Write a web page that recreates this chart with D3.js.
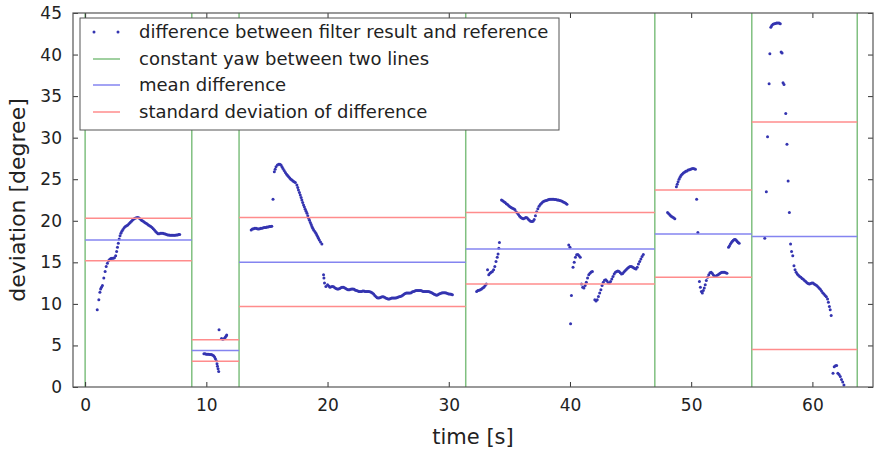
<!DOCTYPE html>
<html>
<head>
<meta charset="utf-8">
<script src="https://cdn.jsdelivr.net/npm/d3@7"></script>
<style>
  body { margin: 0; background: #fff; }
  svg { display: block; font-family: "DejaVu Sans", sans-serif; }
</style>
</head>
<body>
<div id="chart"></div>
<script>
// segment borders (constant yaw between two lines)
var borders = [0, 8.8, 12.7, 31.4, 47.0, 55.0, 63.7];
var means = [17.7, 4.4, 15.0, 16.6, 18.4, 18.1];
var stdUpper = [20.3, 5.7, 20.4, 21.0, 23.7, 31.9];
var stdLower = [15.2, 3.1, 9.7, 12.4, 13.2, 4.5];

var xTicks = [0, 10, 20, 30, 40, 50, 60];
var yTicks = [0, 5, 10, 15, 20, 25, 30, 35, 40, 45];

var legendLabels = [
  "difference between filter result and reference",
  "constant yaw between two lines",
  "mean difference",
  "standard deviation of difference"
];

// [time, deviation]
var seg1 = [[1.0,9.3],[1.13,10.5],[1.22,11.4],[1.28,11.8],[1.35,12.0],[1.43,12.2],[1.54,13.1],[1.65,13.9],[1.74,14.5],[1.84,14.9],[1.93,15.2],[2.02,15.35],[2.12,15.45],[2.22,15.5],[2.32,15.5],[2.42,15.55],[2.52,15.8],[2.6,16.3],[2.67,16.8],[2.74,17.3],[2.81,17.8],[2.88,18.2],[2.95,18.5],[3.03,18.75],[3.12,18.95],[3.22,19.15],[3.32,19.3],[3.42,19.4],[3.52,19.5],[3.62,19.65],[3.72,19.8],[3.82,19.95],[3.92,20.1],[4.02,20.2],[4.12,20.3],[4.22,20.35],[4.32,20.4],[4.42,20.35],[4.52,20.25],[4.62,20.1],[4.72,20.0],[4.82,19.9],[4.92,19.8],[5.02,19.7],[5.12,19.6],[5.22,19.5],[5.32,19.4],[5.42,19.3],[5.52,19.2],[5.62,19.05],[5.72,18.9],[5.82,18.7],[5.92,18.55],[6.02,18.45],[6.12,18.45],[6.22,18.5],[6.32,18.5],[6.42,18.5],[6.52,18.45],[6.62,18.4],[6.72,18.35],[6.82,18.3],[6.92,18.3],[7.02,18.25],[7.12,18.25],[7.22,18.25],[7.32,18.25],[7.42,18.25],[7.52,18.3],[7.62,18.3],[7.72,18.35],[7.8,18.35]];

var seg2 = [[9.8,4.0],[9.9,4.0],[10.0,3.95],[10.1,3.95],[10.2,3.95],[10.3,3.9],[10.4,3.9],[10.5,3.85],[10.6,3.75],[10.68,3.6],[10.75,3.4],[10.82,3.15],[10.88,2.8],[10.92,2.5],[10.97,2.2],[11.02,1.85],[11.05,6.9],[11.25,5.85],[11.35,5.75],[11.45,5.8],[11.55,5.95],[11.62,6.1],[11.68,6.25]];

var seg3 = [[13.7,18.9],[13.8,19.0],[13.9,19.05],[14.0,19.1],[14.1,19.1],[14.2,19.05],[14.3,19.0],[14.4,19.05],[14.5,19.1],[14.6,19.1],[14.7,19.15],[14.8,19.2],[14.9,19.2],[15.0,19.25],[15.1,19.25],[15.2,19.3],[15.3,19.3],[15.4,19.35],[15.5,22.6],[15.61,25.9],[15.68,26.2],[15.75,26.5],[15.86,26.7],[15.97,26.8],[16.06,26.8],[16.16,26.7],[16.24,26.5],[16.32,26.3],[16.42,26.05],[16.52,25.8],[16.62,25.6],[16.7,25.45],[16.79,25.3],[16.88,25.15],[16.97,25.0],[17.06,24.9],[17.15,24.8],[17.24,24.7],[17.34,24.6],[17.47,24.3],[17.54,24.0],[17.6,23.7],[17.68,23.4],[17.75,23.1],[17.82,22.8],[17.88,22.5],[17.95,22.2],[18.02,21.9],[18.09,21.65],[18.16,21.4],[18.23,21.15],[18.3,20.9],[18.37,20.6],[18.44,20.3],[18.51,20.05],[18.58,19.8],[18.65,19.55],[18.71,19.3],[18.78,19.1],[18.85,18.9],[18.95,18.7],[19.04,18.5],[19.11,18.3],[19.18,18.1],[19.25,17.9],[19.32,17.7],[19.42,17.45],[19.53,17.2],[19.67,13.5],[19.7,13.1],[19.75,12.5],[19.86,12.1],[20.0,12.3],[20.1,12.15],[20.2,12.0],[20.3,12.05],[20.4,12.1],[20.5,12.05],[20.6,11.95],[20.7,11.85],[20.8,11.8],[20.9,11.8],[21.0,11.85],[21.1,11.95],[21.2,12.0],[21.3,12.0],[21.4,11.95],[21.5,11.85],[21.6,11.75],[21.7,11.7],[21.8,11.7],[21.9,11.75],[22.0,11.8],[22.1,11.8],[22.2,11.75],[22.3,11.65],[22.4,11.6],[22.5,11.55],[22.6,11.5],[22.7,11.5],[22.8,11.5],[22.9,11.55],[23.0,11.55],[23.1,11.5],[23.2,11.5],[23.3,11.5],[23.4,11.5],[23.5,11.45],[23.6,11.4],[23.7,11.3],[23.8,11.2],[23.9,11.0],[24.0,10.85],[24.1,10.75],[24.2,10.7],[24.3,10.75],[24.4,10.8],[24.5,10.85],[24.6,10.85],[24.7,10.8],[24.8,10.7],[24.9,10.65],[25.0,10.6],[25.1,10.6],[25.2,10.65],[25.3,10.7],[25.4,10.7],[25.5,10.7],[25.6,10.7],[25.7,10.75],[25.8,10.8],[25.9,10.85],[26.0,10.9],[26.1,10.95],[26.2,11.05],[26.3,11.15],[26.4,11.25],[26.5,11.3],[26.6,11.3],[26.7,11.3],[26.8,11.3],[26.9,11.35],[27.0,11.45],[27.1,11.5],[27.2,11.55],[27.3,11.6],[27.4,11.6],[27.5,11.6],[27.6,11.6],[27.7,11.6],[27.8,11.55],[27.9,11.5],[28.0,11.5],[28.1,11.5],[28.2,11.5],[28.3,11.5],[28.4,11.45],[28.5,11.4],[28.6,11.35],[28.7,11.25],[28.8,11.15],[28.9,11.1],[29.0,11.05],[29.1,11.1],[29.2,11.2],[29.3,11.25],[29.4,11.3],[29.5,11.35],[29.6,11.35],[29.7,11.35],[29.8,11.3],[29.9,11.25],[30.0,11.2],[30.1,11.2],[30.2,11.15],[30.3,11.1]];

var seg4 = [[32.3,11.5],[32.4,11.6],[32.5,11.65],[32.6,11.7],[32.7,11.8],[32.8,11.9],[32.9,12.0],[33.0,12.2],[33.1,12.4],[33.2,14.1],[33.3,13.5],[33.4,13.7],[33.5,13.8],[33.6,13.9],[33.7,14.1],[33.8,14.5],[33.9,15.1],[34.0,15.6],[34.07,16.0],[34.13,16.7],[34.18,17.4],
  [34.35,22.5],[34.45,22.4],[34.55,22.3],[34.65,22.2],[34.75,22.05],[34.85,21.95],[34.95,21.8],[35.05,21.7],[35.15,21.6],[35.25,21.5],[35.35,21.45],[35.45,21.35],[35.55,21.1],[35.65,20.95],[35.75,20.75],[35.85,20.55],[35.95,20.4],[36.05,20.3],[36.15,20.25],[36.25,20.3],[36.35,20.4],[36.45,20.35],[36.55,20.2],[36.65,20.05],[36.75,19.95],[36.85,19.9],[36.95,19.95],[37.05,20.15],[37.15,20.6],[37.25,21.1],[37.35,21.45],[37.45,21.75],[37.55,21.95],[37.65,22.1],[37.75,22.25],[37.85,22.35],[37.95,22.4],[38.05,22.45],[38.15,22.5],[38.25,22.55],[38.35,22.6],[38.45,22.6],[38.55,22.6],[38.65,22.6],[38.75,22.55],[38.85,22.55],[38.95,22.5],[39.05,22.5],[39.15,22.45],[39.25,22.4],[39.35,22.35],[39.45,22.25],[39.55,22.2],[39.65,22.1],[39.75,22.0],
  [39.9,17.1],[40.0,16.8],[40.05,7.6],[40.12,11.0],[40.25,14.4],[40.35,15.0],[40.45,15.6],[40.55,15.9],[40.65,15.95],[40.75,15.8],[40.85,15.6],[40.95,12.4],[41.05,12.0],[41.15,11.9],[41.25,12.2],[41.35,12.6],[41.45,13.1],[41.55,13.5],[41.65,13.7],[41.75,13.85],[41.85,13.9],[42.05,10.5],[42.15,10.35],[42.25,10.5],[42.35,10.9],[42.45,11.3],[42.55,11.7],[42.65,12.2],[42.75,12.6],[42.85,12.85],[42.95,12.9],[43.05,12.75],[43.15,12.55],[43.25,12.5],[43.35,12.7],[43.45,13.0],[43.55,13.3],[43.65,13.6],[43.75,13.8],[43.85,13.9],[43.95,13.95],[44.05,13.9],[44.15,13.75],[44.25,13.6],[44.35,13.65],[44.45,13.85],[44.55,14.0],[44.65,14.15],[44.75,14.3],[44.85,14.4],[44.95,14.5],[45.05,14.5],[45.15,14.45],[45.25,14.35],[45.35,14.25],[45.45,14.2],[45.55,14.4],[45.65,14.8],[45.75,15.1],[45.85,15.4],[45.95,15.7],[46.05,15.95]];

var seg5 = [[48.05,21.0],[48.15,20.85],[48.25,20.7],[48.35,20.55],[48.45,20.45],[48.55,20.35],[48.65,20.25],[48.78,24.1],[48.85,24.4],[48.92,24.7],[49.0,25.0],[49.08,25.25],[49.16,25.45],[49.25,25.6],[49.35,25.75],[49.45,25.85],[49.55,25.95],[49.65,26.0],[49.75,26.1],[49.85,26.15],[49.95,26.2],[50.05,26.25],[50.15,26.3],[50.25,26.25],[50.35,26.2],[50.45,22.6],[50.55,18.6],[50.68,12.7],[50.76,12.0],[50.84,11.5],[50.92,11.3],[51.0,11.6],[51.08,11.9],[51.16,12.3],[51.25,12.8],[51.35,13.2],[51.45,13.5],[51.55,13.75],[51.65,13.8],[51.75,13.65],[51.85,13.45],[51.95,13.3],[52.05,13.35],[52.15,13.45],[52.25,13.55],[52.35,13.65],[52.45,13.75],[52.55,13.8],[52.65,13.8],[52.75,13.8],[52.85,13.75],[52.95,13.7],[53.08,16.8],[53.16,17.0],[53.24,17.2],[53.32,17.4],[53.4,17.55],[53.48,17.65],[53.56,17.75],[53.64,17.75],[53.72,17.65],[53.8,17.5],[53.88,17.4],[53.96,17.3]];

var seg6 = [[56.07,17.9],[56.2,23.5],[56.3,30.1],[56.43,36.5],[56.49,40.1],[56.57,43.3],[56.65,43.5],[56.75,43.65],[56.85,43.7],[56.95,43.75],[57.05,43.8],[57.15,43.8],[57.25,43.8],[57.35,43.7],[57.42,40.3],[57.5,40.2],[57.58,36.6],[57.66,36.4],[57.8,32.9],[57.9,29.2],[58.0,24.8],[58.1,21.0],[58.2,17.2],[58.28,16.3],[58.38,15.8],[58.48,14.6],[58.57,14.1],[58.66,13.8],[58.75,13.6],[58.85,13.45],[58.95,13.3],[59.05,13.2],[59.15,13.05],[59.25,12.95],[59.35,12.8],[59.45,12.7],[59.55,12.55],[59.65,12.45],[59.75,12.4],[59.85,12.45],[59.95,12.5],[60.05,12.5],[60.15,12.4],[60.25,12.3],[60.35,12.2],[60.45,12.05],[60.55,11.9],[60.65,11.75],[60.75,11.55],[60.85,11.35],[60.95,11.2],[61.05,11.0],[61.15,10.85],[61.25,10.6],[61.32,10.2],[61.4,9.7],[61.47,9.3],[61.55,8.6],[61.7,1.65],[61.8,2.45],[61.9,2.55],[62.0,2.6],[62.1,1.65],[62.2,1.5],[62.3,1.25],[62.4,0.9],[62.5,0.6],[62.6,0.25]];

var points = seg1.concat(seg2, seg3, seg4, seg5, seg6);

var W = 874, H = 452;
var margin = {top: 13, right: 1, bottom: 65, left: 73};

var svg = d3.select("#chart")
  .append("svg")
    .attr("width", W)
    .attr("height", H);

var x = d3.scaleLinear()
  .domain([-1, 65])
  .range([margin.left, W - margin.right]);

var y = d3.scaleLinear()
  .domain([0, 45])
  .range([H - margin.bottom, margin.top]);

var blueDot = "#3434b0",
    green = "#80c080",
    lightBlue = "#8484f0",
    lightRed = "#ff8c8c";

// data points
svg.append("g")
  .selectAll("circle")
  .data(points)
  .enter()
  .append("circle")
    .attr("cx", d => x(d[0]))
    .attr("cy", d => y(d[1]))
    .attr("r", 1.5)
    .style("fill", blueDot);

// vertical borders
svg.append("g")
  .selectAll("line")
  .data(borders)
  .enter()
  .append("line")
    .attr("x1", d => x(d)).attr("x2", d => x(d))
    .attr("y1", y(0)).attr("y2", y(45))
    .style("stroke", green)
    .style("stroke-width", 1.5);

var segs = d3.range(means.length);

function hlines(values, color) {
  svg.append("g")
    .selectAll("line")
    .data(segs)
    .enter()
    .append("line")
      .attr("x1", i => x(borders[i])).attr("x2", i => x(borders[i + 1]))
      .attr("y1", i => y(values[i])).attr("y2", i => y(values[i]))
      .style("stroke", color)
      .style("stroke-width", 1.5);
}
hlines(means, lightBlue);
hlines(stdUpper, lightRed);
hlines(stdLower, lightRed);

// axes (ticks inside, on all four sides)
var tickStyle = function(g) {
  g.select(".domain").remove();
  g.selectAll(".tick line").style("stroke", "#333");
  g.selectAll(".tick text").style("font-size", "17px").style("fill", "#222")
    .style("font-family", "DejaVu Sans, sans-serif");
};

svg.append("g")
  .attr("transform", "translate(0," + y(0) + ")")
  .call(d3.axisBottom(x).tickValues(xTicks).tickSizeInner(-5).tickPadding(12))
  .call(tickStyle);
svg.append("g")
  .attr("transform", "translate(0," + y(45) + ")")
  .call(d3.axisTop(x).tickValues(xTicks).tickSizeInner(-5).tickFormat(""))
  .call(tickStyle);
svg.append("g")
  .attr("transform", "translate(" + x(-1) + ",0)")
  .call(d3.axisLeft(y).tickValues(yTicks).tickSizeInner(-5).tickPadding(11))
  .call(tickStyle);
svg.append("g")
  .attr("transform", "translate(" + x(65) + ",0)")
  .call(d3.axisRight(y).tickValues(yTicks).tickSizeInner(-5).tickFormat(""))
  .call(tickStyle);

svg.append("rect")
  .attr("x", x(-1)).attr("y", y(45))
  .attr("width", x(65) - x(-1)).attr("height", y(0) - y(45))
  .style("fill", "none")
  .style("stroke", "#555")
  .style("stroke-width", 1.2);

// axis labels
svg.append("text")
  .attr("x", (x(-1) + x(65)) / 2)
  .attr("y", 444)
  .attr("text-anchor", "middle")
  .style("font-size", "21px")
  .style("fill", "#222")
  .text("time [s]");

svg.append("text")
  .attr("transform", "translate(25," + (y(0) + y(45)) / 2 + ") rotate(-90)")
  .attr("text-anchor", "middle")
  .style("font-size", "22px")
  .style("fill", "#222")
  .text("deviation [degree]");

// legend
var lg = svg.append("g").attr("transform", "translate(80,18)");
lg.append("rect")
  .attr("width", 479).attr("height", 112)
  .style("fill", "#fff")
  .style("stroke", "#555")
  .style("stroke-width", 1);

var rowY = [14, 41, 67, 94];
var rowColor = [blueDot, green, lightBlue, lightRed];
legendLabels.forEach(function(label, i) {
  if (i === 0) {
    [14, 38].forEach(function(cx) {
      lg.append("circle").attr("cx", cx).attr("cy", rowY[i]).attr("r", 1.5).style("fill", blueDot);
    });
  } else {
    lg.append("line")
      .attr("x1", 13).attr("x2", 40)
      .attr("y1", rowY[i]).attr("y2", rowY[i])
      .style("stroke", rowColor[i])
      .style("stroke-width", 1.5);
  }
  lg.append("text")
    .attr("x", 59)
    .attr("y", rowY[i])
    .attr("dy", "0.35em")
    .style("font-size", "18px")
    .style("fill", "#222")
    .text(label);
});
</script>
</body>
</html>
